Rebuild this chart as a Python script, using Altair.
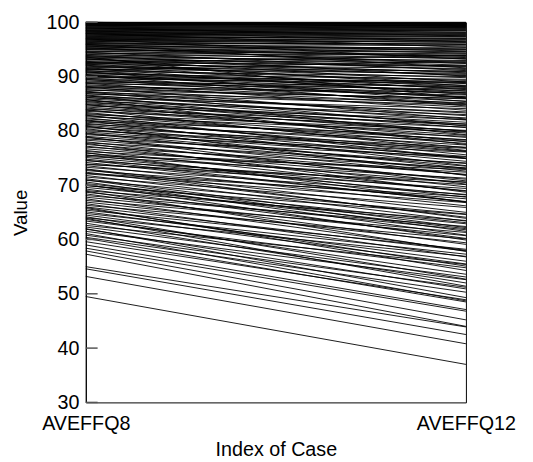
import altair as alt
import pandas as pd

categories = ["AVEFFQ8", "AVEFFQ12"]
y_ticks = [30, 40, 50, 60, 70, 80, 90, 100]

q8 = [
    49.5, 53.2, 54.6, 55.0, 57.3, 57.9, 58.4, 59.0, 59.6, 60.2, 60.4,
    60.8, 61.1, 61.5, 61.9, 62.3, 62.6, 63.0, 63.4, 63.7, 64.0, 64.2, 64.5, 64.8, 63.9, 62.0,
    65.1, 65.4, 65.7, 66.0, 66.3, 66.6, 66.9, 67.2, 67.5, 67.8, 68.1, 68.4, 68.7, 69.0, 69.3, 69.6, 69.9, 70.0, 65.9, 68.9,
    70.3, 70.6, 70.9, 71.2, 71.5, 71.8, 72.1, 72.4, 72.7, 73.0, 73.3, 73.6, 73.9, 74.2, 74.5, 74.8, 71.0, 72.9, 73.8, 74.6, 70.1, 72.2,
    75.1, 75.3, 75.6, 75.9, 76.2, 76.4, 76.7, 77.0, 77.2, 77.5, 77.8, 78.0, 78.3, 78.5, 78.8, 79.0, 79.3, 79.5, 79.8, 80.0, 76.0, 77.7, 78.9, 79.6, 75.5,
    80.2, 80.4, 80.6, 80.8, 81.0, 81.2, 81.4, 81.6, 81.8, 82.0, 82.2, 82.4, 82.6, 82.8, 83.0, 83.2, 83.4, 83.6, 83.8, 84.0, 84.2, 84.4, 84.6, 84.8, 85.0, 80.9, 81.9, 82.9, 83.9, 84.9,
    85.2, 85.4, 85.5, 85.7, 85.9, 86.1, 86.2, 86.4, 86.6, 86.8, 86.9, 87.1, 87.3, 87.5, 87.6, 87.8, 88.0, 88.2, 88.3, 88.5, 88.7, 88.9, 89.0, 89.2, 89.4, 89.6, 89.7, 89.9, 90.0, 85.8, 86.5, 87.2, 88.1, 88.8, 89.5,
    90.1, 90.2, 90.4, 90.5, 90.7, 90.8, 91.0, 91.1, 91.3, 91.4, 91.6, 91.7, 91.9, 92.0, 92.2, 92.3, 92.5, 92.6, 92.8, 92.9, 93.1, 93.2, 93.4, 93.5, 93.7, 93.8, 94.0, 94.1, 94.3, 94.4, 94.6, 94.7, 94.9, 95.0, 90.3, 90.9, 91.5, 92.1, 92.7, 93.3, 93.9, 94.5, 91.2, 92.4, 93.6,
    95.1, 95.2, 95.3, 95.4, 95.5, 95.6, 95.7, 95.8, 95.9, 96.0, 96.1, 96.2, 96.3, 96.4, 96.5, 96.6, 96.7, 96.8, 96.9, 97.0, 97.1, 97.2, 97.3, 97.4, 97.5, 97.6, 97.7, 97.8, 97.9, 98.0, 98.1, 98.2, 98.3, 98.4, 98.5, 98.6, 98.7, 98.8, 98.9, 99.0, 99.1, 99.2, 99.3, 99.4, 99.5, 99.6, 99.7, 99.8, 99.9, 100.0, 100.0, 100.0, 99.85, 99.65, 99.45, 98.95, 98.45, 97.95, 96.95, 95.95,
]

q12 = [
    37.0, 40.8, 42.5, 43.9, 44.0, 45.2, 46.8, 47.1, 48.9, 48.5, 50.3,
    51.2, 48.7, 52.6, 50.9, 53.1, 55.4, 52.0, 54.8, 53.6, 56.9, 52.7, 55.5, 57.3, 51.4, 49.3,
    56.0, 58.2, 55.1, 57.9, 60.1, 56.8, 59.4, 61.3, 58.0, 60.7, 62.4, 59.1, 61.8, 63.5, 60.2, 62.9, 64.6, 62.0, 54.3, 57.8,
    63.1, 60.8, 64.7, 62.2, 65.9, 63.4, 66.8, 64.1, 67.5, 65.0, 68.3, 66.2, 69.4, 67.0, 70.1, 68.2, 61.5, 63.9, 70.6, 66.9, 59.9, 67.9,
    69.0, 71.3, 67.8, 70.5, 72.4, 68.9, 71.1, 73.2, 69.7, 72.0, 74.1, 70.8, 73.0, 75.2, 71.9, 74.0, 76.1, 72.6, 74.9, 76.8, 66.9, 68.7, 70.2, 73.5, 72.9,
    75.3, 73.1, 77.0, 74.4, 76.2, 78.1, 75.0, 77.4, 79.0, 76.3, 78.4, 75.6, 79.8, 77.7, 80.1, 78.3, 76.9, 80.7, 79.2, 81.3, 78.8, 80.0, 82.1, 79.6, 81.0, 71.8, 73.6, 74.9, 76.4, 78.0,
    81.6, 79.9, 83.0, 80.6, 82.4, 84.1, 81.2, 83.5, 82.0, 84.8, 83.3, 85.2, 82.8, 86.0, 84.4, 85.9, 87.1, 84.9, 86.6, 85.5, 87.7, 86.3, 88.2, 86.9, 87.4, 88.8, 86.1, 89.1, 88.0, 77.5, 79.3, 80.9, 82.2, 83.8, 85.0,
    87.3, 88.9, 86.2, 89.5, 87.8, 88.4, 90.0, 87.0, 89.3, 90.6, 88.1, 91.0, 89.8, 90.4, 91.5, 88.7, 90.9, 92.0, 90.2, 91.8, 92.5, 90.7, 91.9, 93.0, 91.3, 92.6, 93.4, 92.1, 93.9, 92.8, 94.2, 93.3, 94.5, 93.7, 84.6, 85.4, 86.7, 87.6, 88.3, 89.0, 90.1, 91.1, 92.9, 94.0, 86.0,
    93.9, 94.6, 92.4, 94.9, 95.3, 93.5, 95.0, 95.8, 94.3, 96.2, 95.1, 96.0, 94.7, 96.5, 95.6, 96.8, 95.9, 97.0, 96.3, 97.4, 96.6, 97.1, 97.7, 96.9, 97.9, 97.3, 98.1, 97.6, 98.4, 97.8, 98.6, 98.0, 98.2, 98.8, 98.5, 99.0, 98.7, 99.2, 98.9, 99.3, 99.1, 99.5, 99.4, 99.6, 99.7, 99.5, 99.8, 99.9, 99.8, 100.0, 99.6, 99.2, 99.9, 99.4, 99.0, 97.5, 96.4, 95.4, 93.2, 91.6,
]

n = min(len(q8), len(q12))
rows = []
for i in range(n):
    rows.append({"case": i, "variable": categories[0], "value": q8[i]})
    rows.append({"case": i, "variable": categories[1], "value": q12[i]})
df = pd.DataFrame(rows)
ticks_df = pd.DataFrame({"value": y_ticks})

FONT = "Liberation Sans"

x_enc = alt.X("variable:N", sort=categories,
              scale=alt.Scale(type="point", padding=0, domain=categories),
              axis=alt.Axis(title="Index of Case", labelAngle=0, ticks=False, domain=False,
                            labelFontSize=20, titleFontSize=20, labelPadding=12,
                            titlePadding=6, labelColor="black", titleColor="black",
                            titleFontWeight="normal", labelFont=FONT, titleFont=FONT,
                            labelFlush=False))
y_scale = alt.Scale(domain=[30, 100], nice=False, zero=False)

lines = alt.Chart(df).mark_line(color="black", strokeWidth=0.9).encode(
    x=x_enc,
    y=alt.Y("value:Q", scale=y_scale,
            axis=alt.Axis(title="Value", values=y_ticks, ticks=False, domain=True,
                          domainColor="black", grid=False, labelFontSize=20,
                          titleFontSize=19, labelPadding=7, titlePadding=16,
                          labelColor="black", titleColor="black",
                          titleFontWeight="normal", labelFont=FONT, titleFont=FONT)),
    detail="case:N",
)

tick_marks = alt.Chart(ticks_df).mark_rule(color="#555555", strokeWidth=1.5).encode(
    x=alt.value(0), x2=alt.value(12),
    y=alt.Y("value:Q", scale=y_scale),
)

chart = alt.layer(lines, tick_marks).properties(
    width=386, height=386,
    autosize=alt.AutoSizeParams(type="none"),
    padding={"left": 79, "top": 11, "right": 60, "bottom": 57},
).configure_view(stroke="black", strokeWidth=1).configure_axis(grid=False)

chart.save("out.html", embed_options={"renderer": "svg", "actions": False})
